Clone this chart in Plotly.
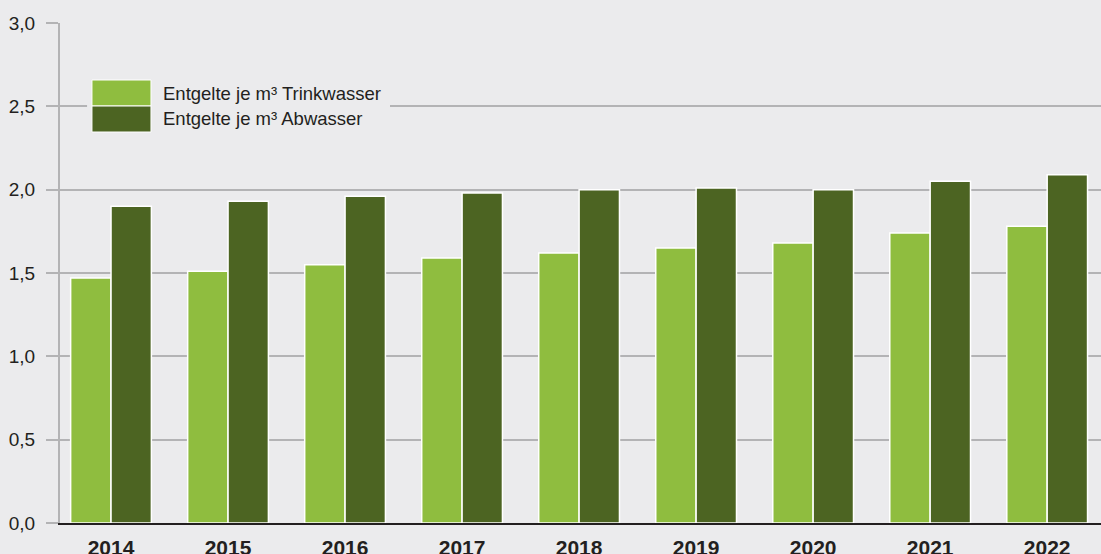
import plotly.graph_objects as go

years = ["2014", "2015", "2016", "2017", "2018", "2019", "2020", "2021", "2022"]
trinkwasser = [1.47, 1.51, 1.55, 1.59, 1.62, 1.65, 1.68, 1.74, 1.78]
abwasser = [1.90, 1.93, 1.96, 1.98, 2.00, 2.01, 2.00, 2.05, 2.09]
series_names = ["Entgelte je m³ Trinkwasser", "Entgelte je m³ Abwasser"]
y_ticks = [0, 0.5, 1.0, 1.5, 2.0, 2.5, 3.0]

LIGHT = "#8FBD3F"
DARK = "#4C6422"
BG = "#EBEBED"
GRID = "#B3B3B5"
TXT = "#231F20"
FONT = "Liberation Sans, Arial, sans-serif"

fig = go.Figure()
fig.add_trace(go.Bar(x=years, y=trinkwasser, name=series_names[0],
                     marker=dict(color=LIGHT, line=dict(color="white", width=1.5)),
                     showlegend=False))
fig.add_trace(go.Bar(x=years, y=abwasser, name=series_names[1],
                     marker=dict(color=DARK, line=dict(color="white", width=1.5)),
                     showlegend=False))

# custom legend (large swatches, box hides the gridline)
fig.add_shape(type="rect", xref="paper", yref="paper", x0=0.026, x1=0.317,
              y0=0.77, y1=0.9, fillcolor=BG, line=dict(width=0), layer="above")
fig.add_shape(type="rect", xref="paper", yref="paper", x0=0.0307, x1=0.0874,
              y0=0.834, y1=0.886, fillcolor=LIGHT, line=dict(color="white", width=1), layer="above")
fig.add_shape(type="rect", xref="paper", yref="paper", x0=0.0307, x1=0.0874,
              y0=0.782, y1=0.834, fillcolor=DARK, line=dict(color="white", width=1), layer="above")
fig.add_annotation(xref="paper", yref="paper", x=0.097, y=0.86, text=series_names[0],
                   showarrow=False, xanchor="left", yanchor="middle",
                   font=dict(size=18.5, color=TXT, family=FONT))
fig.add_annotation(xref="paper", yref="paper", x=0.097, y=0.808, text=series_names[1],
                   showarrow=False, xanchor="left", yanchor="middle",
                   font=dict(size=18.5, color=TXT, family=FONT))

fig.update_layout(
    width=1101, height=554,
    margin=dict(l=60, r=0, t=23, b=31),
    paper_bgcolor=BG, plot_bgcolor=BG,
    barmode="group", bargap=0.31, bargroupgap=0.0,
    separators=",.",
    font=dict(family=FONT, color=TXT),
)
fig.update_xaxes(
    range=[-0.436, 8.46], showgrid=False, showline=True, linecolor=TXT, linewidth=2,
    ticks="", tickfont=dict(size=21, color=TXT, family=FONT, weight="bold"),
    ticklabelstandoff=5, automargin=False,
)
fig.update_yaxes(
    range=[0, 3.0], tickvals=y_ticks, tickformat=".1f",
    showgrid=True, gridcolor=GRID, gridwidth=2,
    showline=True, linecolor=GRID, linewidth=2,
    ticks="outside", ticklen=12, tickcolor=GRID, tickwidth=2,
    tickfont=dict(size=19, color=TXT, family=FONT), ticklabelstandoff=7,
    zeroline=False, automargin=False,
)

fig.write_html(
    "out.html",
    config={"displayModeBar": False},
    post_script="document.body.style.margin='0';document.body.style.background='#EBEBED';document.body.style.overflow='hidden';",
)
